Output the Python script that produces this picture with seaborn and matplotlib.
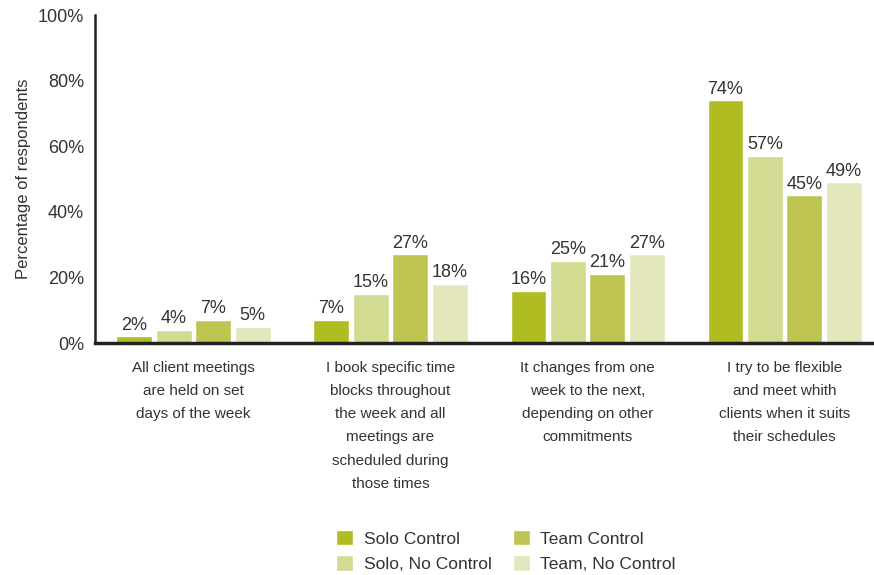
import matplotlib
matplotlib.use("Agg")
import matplotlib.pyplot as plt
import seaborn as sns
import pandas as pd

categories = [
    "All client meetings\nare held on set\ndays of the week",
    "I book specific time\nblocks throughout\nthe week and all\nmeetings are\nscheduled during\nthose times",
    "It changes from one\nweek to the next,\ndepending on other\ncommitments",
    "I try to be flexible\nand meet whith\nclients when it suits\ntheir schedules",
]
groups = ["Solo Control", "Solo, No Control", "Team Control", "Team, No Control"]
solo_control = [2, 7, 16, 74]
solo_no_control = [4, 15, 25, 57]
team_control = [7, 27, 21, 45]
team_no_control = [5, 18, 27, 49]
colors = ["#AFBC22", "#D3DA91", "#BDC452", "#E3E7BB"]

rows = []
for g, vals in zip(groups, [solo_control, solo_no_control, team_control, team_no_control]):
    for c, v in zip(categories, vals):
        rows.append({"category": c, "group": g, "value": v})
df = pd.DataFrame(rows)

sns.set_theme(style="white")
plt.rcParams["font.family"] = ["Liberation Sans", "DejaVu Sans"]
text_color = "#333333"

fig = plt.figure(figsize=(8.74, 5.75), dpi=100)
ax = fig.add_axes([95 / 874, 1 - 343 / 575, 779 / 874, 328 / 575])

sns.barplot(data=df, x="category", y="value", hue="group", order=categories,
            hue_order=groups, palette=colors, width=0.8, saturation=1,
            errorbar=None, ax=ax, legend=True)

# narrow each bar slightly so neighbours are separated by a small gap
for p in ax.patches:
    w = p.get_width()
    if w > 0 and p.get_height() > 0:
        nw = w * 0.91
        p.set_x(p.get_x() + (w - nw) / 2)
        p.set_width(nw)

for cont in ax.containers:
    ax.bar_label(cont, labels=[f"{int(v)}%" for v in cont.datavalues],
                 padding=2, fontsize=13, color=text_color)

ax.set_ylim(0, 100)
ax.set_xlim(-0.5, 3.454)
ax.set_yticks([0, 20, 40, 60, 80, 100])
ax.set_yticklabels([f"{t}%" for t in [0, 20, 40, 60, 80, 100]], fontsize=13, color=text_color)
ax.tick_params(axis="y", length=0, pad=8)
ax.tick_params(axis="x", length=0, pad=13)
for lbl in ax.get_xticklabels():
    lbl.set_fontsize(11)
    lbl.set_color(text_color)
    lbl.set_linespacing(1.83)
    lbl.set_verticalalignment("top")
ax.set_xlabel("")
ax.set_ylabel("Percentage of respondents", fontsize=12, color=text_color, labelpad=5)

for s in ["top", "right"]:
    ax.spines[s].set_visible(False)
ax.spines["left"].set_color("#222222")
ax.spines["left"].set_linewidth(1.8)
ax.spines["bottom"].set_color("#222222")
ax.spines["bottom"].set_linewidth(2.5)

handles, labels = ax.get_legend_handles_labels()
ax.legend_.remove()
fig.legend(handles, labels, ncol=2, loc="center", bbox_to_anchor=(506 / 874, 1 - 551 / 575),
           frameon=False, fontsize=12.5, handlelength=1.0, handleheight=1.0,
           handletextpad=0.6, columnspacing=1.2, labelspacing=0.5,
           labelcolor=text_color)

fig.savefig("out.png", dpi=100)
